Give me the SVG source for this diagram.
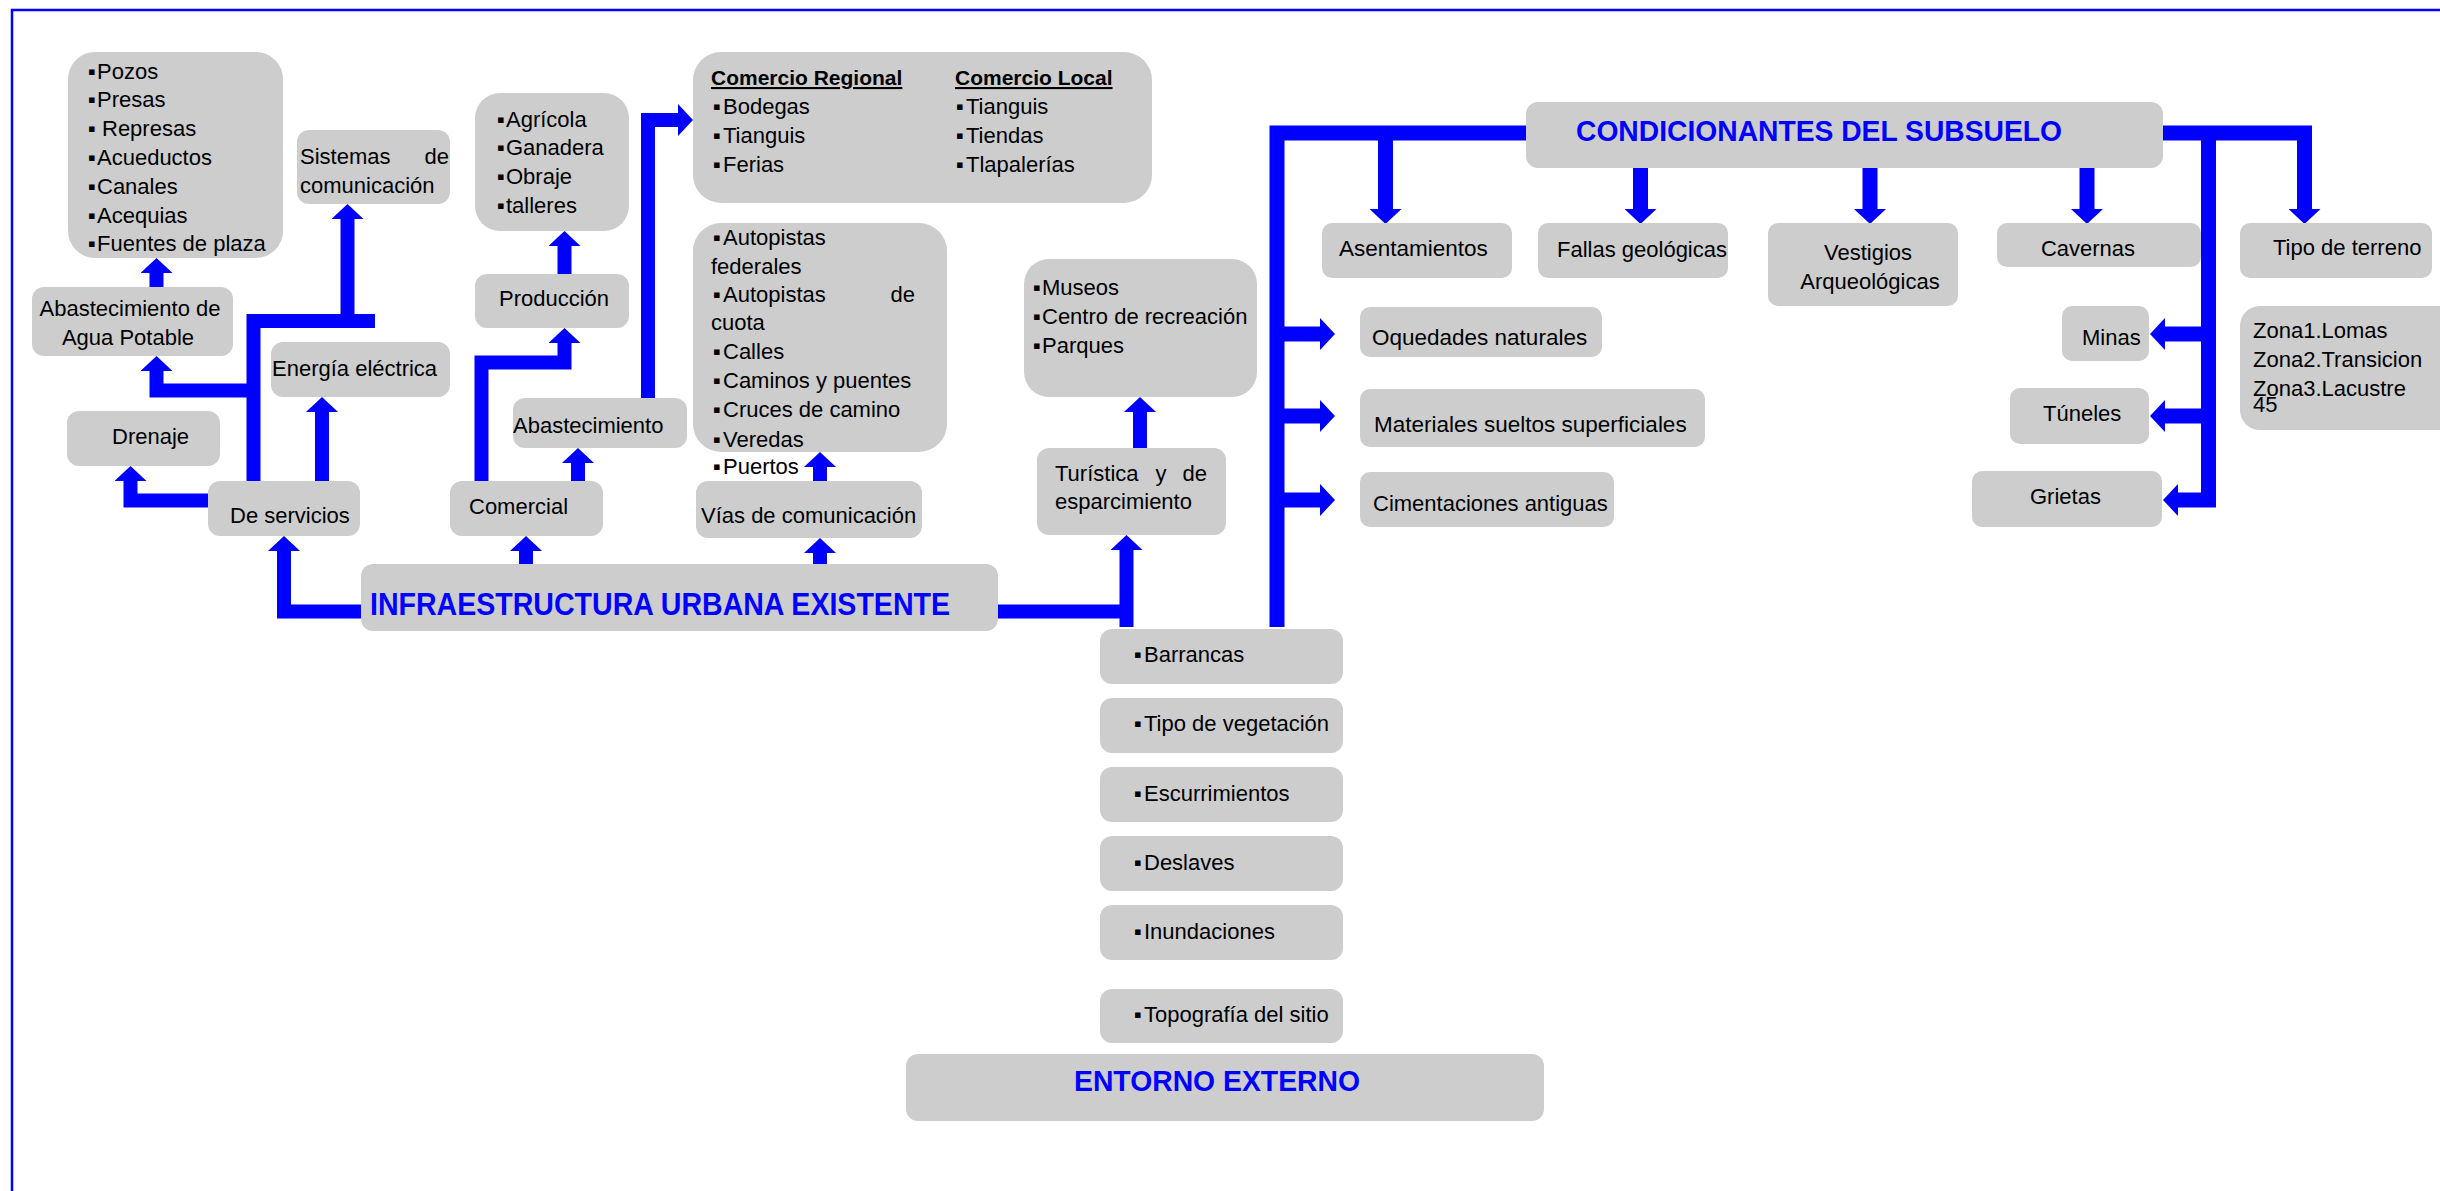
<svg xmlns="http://www.w3.org/2000/svg" width="2440" height="1191" viewBox="0 0 2440 1191">
<style>
.box{fill:#CDCDCD}
.t{font-family:"Liberation Sans",Arial,sans-serif;font-size:22px;fill:#000}
.r{font-size:22.5px}
.s{font-size:22px}
.ttl{font-family:"Liberation Sans",Arial,sans-serif;font-weight:bold;fill:#0000FF}
.hd{font-weight:bold;font-size:21px;text-decoration:underline}
.c{fill:none;stroke:#0000FF;stroke-width:14;stroke-linejoin:miter;stroke-linecap:butt}
.w{stroke-width:15}
</style>
<defs>
<marker id="ah" viewBox="0 0 15 32" refX="0" refY="16" markerWidth="15" markerHeight="32" markerUnits="userSpaceOnUse" orient="auto">
<path d="M0,0 L15,16 L0,32 Z" fill="#0000FF"/>
</marker>
</defs>
<rect width="2440" height="1191" fill="#FFFFFF"/>
<path d="M12,1191 V10 H2440" fill="none" stroke="#0000FF" stroke-width="2.5"/>

<g id="connectors">
<path class="c" d="M156.5,287 V273" marker-end="url(#ah)"/>
<path class="c" d="M253.5,481 V321 H375"/>
<path class="c" d="M347.5,321 V219" marker-end="url(#ah)"/>
<path class="c" d="M253.5,390.5 H156.5 V371" marker-end="url(#ah)"/>
<path class="c" d="M322,481 V412" marker-end="url(#ah)"/>
<path class="c" d="M208,500.5 H130.5 V481" marker-end="url(#ah)"/>
<path class="c" d="M361,611.5 H284 V551" marker-end="url(#ah)"/>
<path class="c" d="M526,564 V551" marker-end="url(#ah)"/>
<path class="c" d="M481.5,481 V362.5 H564.5 V343" marker-end="url(#ah)"/>
<path class="c" d="M564.5,274 V246" marker-end="url(#ah)"/>
<path class="c" d="M578,481 V463" marker-end="url(#ah)"/>
<path class="c" d="M648,398 V120 H678" marker-end="url(#ah)"/>
<path class="c" d="M820,564 V553" marker-end="url(#ah)"/>
<path class="c" d="M820,481 V467" marker-end="url(#ah)"/>
<path class="c" d="M998,611.5 H1133"/>
<path class="c" d="M1126.5,627 V550" marker-end="url(#ah)"/>
<path class="c" d="M1140,448 V412" marker-end="url(#ah)"/>

<path class="c w" d="M1526,133 H1277 V627"/>
<path class="c w" d="M1385.5,133 V209" marker-end="url(#ah)"/>
<path class="c w" d="M1640.5,166 V209" marker-end="url(#ah)"/>
<path class="c w" d="M1870,166 V209" marker-end="url(#ah)"/>
<path class="c w" d="M2087,166 V209" marker-end="url(#ah)"/>
<path class="c w" d="M1277,334 H1320" marker-end="url(#ah)"/>
<path class="c w" d="M1277,416 H1320" marker-end="url(#ah)"/>
<path class="c w" d="M1277,500 H1320" marker-end="url(#ah)"/>
<path class="c w" d="M2163,133 H2304.5 V209" marker-end="url(#ah)"/>
<path class="c w" d="M2208.5,126 V500 H2178" marker-end="url(#ah)"/>
<path class="c w" d="M2208.5,334 H2165" marker-end="url(#ah)"/>
<path class="c w" d="M2208.5,416 H2165" marker-end="url(#ah)"/>
</g>

<g id="n-pozos">
<rect class="box" x="68" y="52" width="215" height="206" rx="27"/>
<text class="t" x="88" y="79">▪<tspan x="97">Pozos</tspan></text>
<text class="t" x="88" y="107">▪<tspan x="97">Presas</tspan></text>
<text class="t" x="88" y="136">▪<tspan x="102">Represas</tspan></text>
<text class="t" x="88" y="165">▪<tspan x="97">Acueductos</tspan></text>
<text class="t" x="88" y="194">▪<tspan x="97">Canales</tspan></text>
<text class="t" x="88" y="223">▪<tspan x="97">Acequias</tspan></text>
<text class="t" x="88" y="251">▪<tspan x="97">Fuentes de plaza</tspan></text>
</g>
<g id="n-sistemas">
<rect class="box" x="297" y="130" width="153" height="74" rx="12"/>
<text class="t" x="300" y="164">Sistemas</text>
<text class="t" x="449" y="164" text-anchor="end">de</text>
<text class="t" x="300" y="193">comunicación</text>
</g>
<g id="n-agricola">
<rect class="box" x="475" y="93" width="154" height="138" rx="25"/>
<text class="t" x="497" y="127">▪<tspan x="506">Agrícola</tspan></text>
<text class="t" x="497" y="155">▪<tspan x="506">Ganadera</tspan></text>
<text class="t" x="497" y="184">▪<tspan x="506">Obraje</tspan></text>
<text class="t" x="497" y="213">▪<tspan x="506">talleres</tspan></text>
</g>
<g id="n-agua">
<rect class="box" x="32" y="287" width="201" height="69" rx="12"/>
<text class="t" x="130" y="316" text-anchor="middle">Abastecimiento de</text>
<text class="t" x="128" y="345" text-anchor="middle">Agua Potable</text>
</g>
<g id="n-energia">
<rect class="box" x="271" y="342" width="179" height="55" rx="12"/>
<text class="t" x="272" y="376">Energía eléctrica</text>
</g>
<g id="n-produccion">
<rect class="box" x="475" y="274" width="154" height="54" rx="12"/>
<text class="t" x="499" y="306">Producción</text>
</g>
<g id="n-abastecimiento">
<rect class="box" x="513" y="398" width="174" height="50" rx="12"/>
<text class="t" x="513" y="433">Abastecimiento</text>
</g>
<g id="n-drenaje">
<rect class="box" x="67" y="411" width="153" height="55" rx="12"/>
<text class="t" x="112" y="444">Drenaje</text>
</g>
<g id="n-servicios">
<rect class="box" x="208" y="481" width="152" height="55" rx="12"/>
<text class="t" x="230" y="523">De servicios</text>
</g>
<g id="n-comercial">
<rect class="box" x="450" y="481" width="153" height="55" rx="12"/>
<text class="t" x="469" y="514">Comercial</text>
</g>
<g id="n-infraestructura">
<rect class="box" x="361" y="564" width="637" height="67" rx="12"/>
<text class="ttl" x="370" y="615" font-size="31" textLength="580" lengthAdjust="spacingAndGlyphs">INFRAESTRUCTURA URBANA EXISTENTE</text>
</g>
<g id="n-comercio">
<rect class="box" x="693" y="52" width="459" height="151" rx="28"/>
<text class="t hd" x="711" y="85">Comercio Regional</text>
<text class="t hd" x="955" y="85">Comercio Local</text>
<text class="t" x="713" y="114">▪<tspan x="723">Bodegas</tspan></text>
<text class="t" x="713" y="143">▪<tspan x="723">Tianguis</tspan></text>
<text class="t" x="713" y="172">▪<tspan x="723">Ferias</tspan></text>
<text class="t" x="956" y="114">▪<tspan x="966">Tianguis</tspan></text>
<text class="t" x="956" y="143">▪<tspan x="966">Tiendas</tspan></text>
<text class="t" x="956" y="172">▪<tspan x="966">Tlapalerías</tspan></text>
</g>
<g id="n-autopistas">
<rect class="box" x="693" y="223" width="254" height="229" rx="28"/>
<text class="t" x="713" y="245">▪<tspan x="723">Autopistas</tspan></text>
<text class="t" x="711" y="274">federales</text>
<text class="t" x="713" y="302">▪<tspan x="723">Autopistas</tspan></text>
<text class="t" x="915" y="302" text-anchor="end">de</text>
<text class="t" x="711" y="330">cuota</text>
<text class="t" x="713" y="359">▪<tspan x="723">Calles</tspan></text>
<text class="t" x="713" y="388">▪<tspan x="723">Caminos y puentes</tspan></text>
<text class="t" x="713" y="417">▪<tspan x="723">Cruces de camino</tspan></text>
<text class="t" x="713" y="447">▪<tspan x="723">Veredas</tspan></text>
<text class="t" x="713" y="474">▪<tspan x="723">Puertos</tspan></text>
</g>
<g id="n-museos">
<rect class="box" x="1024" y="259" width="233" height="138" rx="25"/>
<text class="t" x="1033" y="295">▪<tspan x="1042">Museos</tspan></text>
<text class="t" x="1033" y="324">▪<tspan x="1042">Centro de recreación</tspan></text>
<text class="t" x="1033" y="353">▪<tspan x="1042">Parques</tspan></text>
</g>
<g id="n-vias">
<rect class="box" x="696" y="481" width="226" height="57" rx="12"/>
<text class="t" x="701" y="523">Vías de comunicación</text>
</g>
<g id="n-turistica">
<rect class="box" x="1037" y="448" width="189" height="87" rx="12"/>
<text class="t" x="1055" y="481">Turística</text>
<text class="t" x="1161" y="481" text-anchor="middle">y</text>
<text class="t" x="1207" y="481" text-anchor="end">de</text>
<text class="t" x="1055" y="509">esparcimiento</text>
</g>
<g id="n-barrancas">
<rect class="box" x="1100" y="629" width="243" height="55" rx="12"/>
<text class="t" x="1134" y="662">▪<tspan x="1144">Barrancas</tspan></text>
</g>
<g id="n-vegetacion">
<rect class="box" x="1100" y="698" width="243" height="55" rx="12"/>
<text class="t" x="1134" y="731">▪<tspan x="1144">Tipo de vegetación</tspan></text>
</g>
<g id="n-escurrimientos">
<rect class="box" x="1100" y="767" width="243" height="55" rx="12"/>
<text class="t" x="1134" y="801">▪<tspan x="1144">Escurrimientos</tspan></text>
</g>
<g id="n-deslaves">
<rect class="box" x="1100" y="836" width="243" height="55" rx="12"/>
<text class="t" x="1134" y="870">▪<tspan x="1144">Deslaves</tspan></text>
</g>
<g id="n-inundaciones">
<rect class="box" x="1100" y="905" width="243" height="55" rx="12"/>
<text class="t" x="1134" y="939">▪<tspan x="1144">Inundaciones</tspan></text>
</g>
<g id="n-topografia">
<rect class="box" x="1100" y="989" width="243" height="54" rx="12"/>
<text class="t" x="1134" y="1022">▪<tspan x="1144">Topografía del sitio</tspan></text>
</g>
<g id="n-entorno">
<rect class="box" x="906" y="1054" width="638" height="67" rx="12"/>
<text class="ttl" x="1074" y="1091" font-size="29" textLength="286" lengthAdjust="spacingAndGlyphs">ENTORNO EXTERNO</text>
</g>
<g id="n-condicionantes">
<rect class="box" x="1526" y="102" width="637" height="66" rx="12"/>
<text class="ttl" x="1576" y="141" font-size="29" textLength="486" lengthAdjust="spacingAndGlyphs">CONDICIONANTES DEL SUBSUELO</text>
</g>
<g id="n-asentamientos">
<rect class="box" x="1322" y="223" width="190" height="55" rx="10"/>
<text class="t r" x="1339" y="256">Asentamientos</text>
</g>
<g id="n-fallas">
<rect class="box" x="1538" y="223" width="190" height="55" rx="10"/>
<text class="t s" x="1557" y="257">Fallas geológicas</text>
</g>
<g id="n-vestigios">
<rect class="box" x="1768" y="223" width="190" height="83" rx="10"/>
<text class="t s" x="1868" y="260" text-anchor="middle">Vestigios</text>
<text class="t s" x="1870" y="289" text-anchor="middle">Arqueológicas</text>
</g>
<g id="n-cavernas">
<rect class="box" x="1997" y="223" width="204" height="44" rx="10"/>
<text class="t s" x="2088" y="256" text-anchor="middle">Cavernas</text>
</g>
<g id="n-tipo-terreno">
<rect class="box" x="2240" y="223" width="192" height="55" rx="10"/>
<text class="t s" x="2273" y="255">Tipo de terreno</text>
</g>
<g id="n-oquedades">
<rect class="box" x="1360" y="307" width="242" height="50" rx="10"/>
<text class="t r" x="1372" y="345">Oquedades naturales</text>
</g>
<g id="n-materiales">
<rect class="box" x="1360" y="389" width="345" height="58" rx="10"/>
<text class="t r" x="1374" y="432">Materiales sueltos superficiales</text>
</g>
<g id="n-cimentaciones">
<rect class="box" x="1360" y="472" width="254" height="55" rx="10"/>
<text class="t s" x="1373" y="511">Cimentaciones antiguas</text>
</g>
<g id="n-minas">
<rect class="box" x="2062" y="306" width="87" height="55" rx="10"/>
<text class="t s" x="2082" y="345">Minas</text>
</g>
<g id="n-tuneles">
<rect class="box" x="2010" y="388" width="139" height="56" rx="10"/>
<text class="t s" x="2043" y="421">Túneles</text>
</g>
<g id="n-grietas">
<rect class="box" x="1972" y="471" width="190" height="56" rx="10"/>
<text class="t s" x="2030" y="504">Grietas</text>
</g>
<g id="n-zonas">
<rect class="box" x="2240" y="306" width="230" height="124" rx="20"/>
<text class="t" x="2253" y="338">Zona1.Lomas</text>
<text class="t" x="2253" y="367">Zona2.Transicion</text>
<text class="t" x="2253" y="396">Zona3.Lacustre</text>
<text class="t" x="2253" y="412" font-size="14">45</text>
</g>
</svg>
